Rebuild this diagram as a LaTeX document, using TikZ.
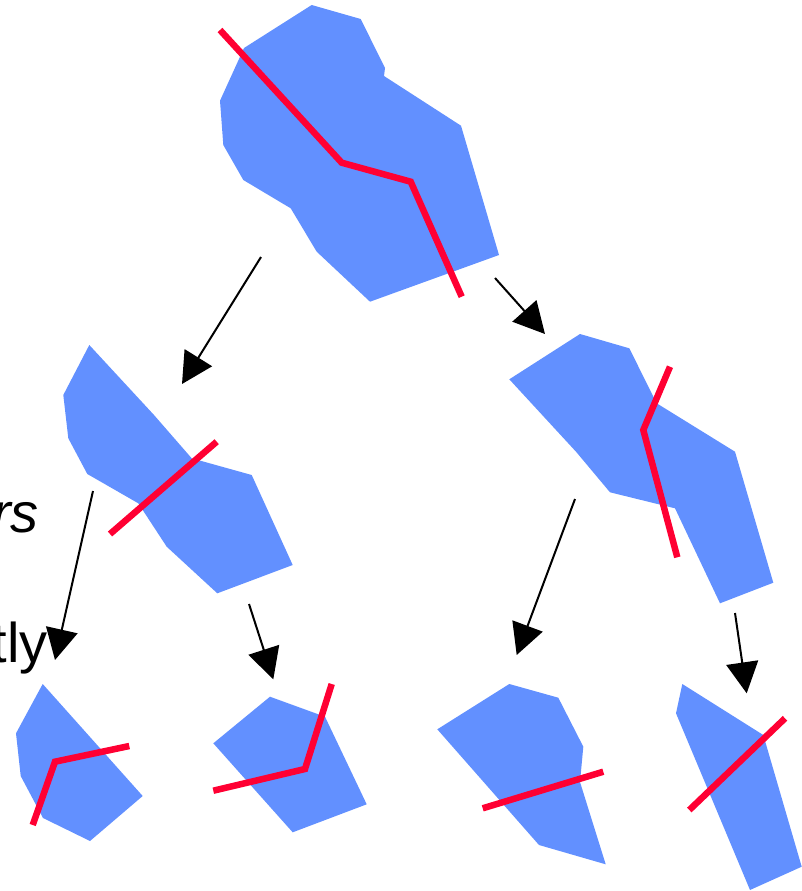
\documentclass[tikz,border=0pt]{standalone}
\usepackage{fontspec}
\setmainfont{Liberation Sans}
\usetikzlibrary{arrows.meta}
\definecolor{regionblue}{RGB}{98,144,255}
\definecolor{cutred}{RGB}{255,0,51}
\tikzset{
  region/.style={fill=regionblue, draw=none},
  cut/.style={draw=cutred, line width=6.5pt, line join=miter},
  split/.style={draw=black, line width=2pt, -{Triangle[length=31pt,width=32pt]}},
  word/.style={anchor=base east, inner sep=0pt, font=\fontsize{56}{60}\selectfont}
}
\begin{document}
\begin{tikzpicture}[x=1pt,y=-1pt]
\useasboundingbox (0,0) rectangle (802,891);

% root region and its cut
\fill[region] (311.7,5) -- (360.7,19) -- (385,68) -- (384,76) -- (461,125.7)
  -- (499,255) -- (370,301.7) -- (316.7,251.7) -- (290.7,208.3) -- (243.3,180)
  -- (223.3,145) -- (220,100.7) -- (244,48) -- cycle;
\draw[cut] (220,30) -- (341.7,162.7) -- (410.7,181.7) -- (461.7,296.7);

% second level, left
\fill[region] (89.3,345) -- (154,415) -- (191.7,458.3) -- (251.7,475)
  -- (292.7,565) -- (217.3,593.3) -- (166.7,546.7) -- (138.3,503.3)
  -- (87.3,474) -- (68.3,438.3) -- (63.3,395) -- cycle;
\draw[cut] (110,534) -- (216.7,441.7);

% second level, right
\fill[region] (509.3,379.3) -- (580,334) -- (629.3,348.3) -- (656.7,403.3)
  -- (735,451.7) -- (773.3,582.7) -- (720,603.3) -- (675,508.3)
  -- (610,492.3) -- (576,451.7) -- cycle;
\draw[cut] (670,366.7) -- (643.3,430) -- (677.3,557.3);

% leaves
\fill[region] (42.7,684) -- (142.7,796) -- (90,841) -- (43,818)
  -- (20.7,776) -- (16,733.3) -- cycle;
\draw[cut] (32.7,825) -- (55,761.7) -- (129.3,746);

\fill[region] (270,696.7) -- (325,716.7) -- (366.7,804.3) -- (292.7,832.3)
  -- (213.3,743.3) -- cycle;
\draw[cut] (213.3,790.7) -- (305,769) -- (331.7,684);

\fill[region] (509.3,684) -- (558.3,697.7) -- (583.3,746.7) -- (580,782)
  -- (605.7,864.3) -- (539,845) -- (437.3,729.3) -- cycle;
\draw[cut] (482.7,808.3) -- (603.3,771.7);

\fill[region] (682.3,684) -- (763.3,735) -- (801.7,866.7) -- (750,890)
  -- (676,713.3) -- cycle;
\draw[cut] (689.3,810) -- (785,718.3);

% arrow end points
\coordinate (r-l) at (261,257);   \coordinate (l-top) at (182,384);
\coordinate (r-r) at (495,278);   \coordinate (rt-top) at (545,334);
\coordinate (l-l) at (93,491);    \coordinate (ll-top) at (55,660);
\coordinate (l-r) at (249,604);   \coordinate (lr-top) at (273.3,679.3);
\coordinate (rr-l) at (575,499);  \coordinate (rl-top) at (516.7,655);
\coordinate (rr-r) at (735,613);  \coordinate (rr-top) at (746.7,693.3);

\draw[split] (r-l) -- (l-top);
\draw[split] (r-r) -- (rt-top);
\draw[split] (l-l) -- (ll-top);
\draw[split] (l-r) -- (lr-top);
\draw[split] (rr-l) -- (rl-top);
\draw[split] (rr-r) -- (rr-top);

% text fragments at the left edge
\node[word] (w1) at (39,532) {\itshape rs};
\node[word] (w2) at (48,662) {tly};
\end{tikzpicture}
\end{document}
